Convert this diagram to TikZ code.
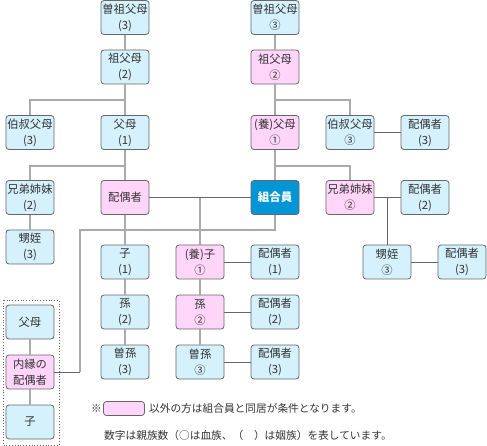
\documentclass[tikz,border=0pt]{standalone}
\usepackage{fontspec}
\setmainfont{Noto Sans CJK JP}
\usepackage{xcolor}
\usepackage{tikz}
\usetikzlibrary{positioning}

\definecolor{kinblue}{HTML}{D4F1FC}
\definecolor{kinpink}{HTML}{FFD5FA}
\definecolor{memberblue}{HTML}{0095D5}
\definecolor{boxline}{HTML}{666666}
\definecolor{kinline}{HTML}{AAAAAA}
\definecolor{txt}{HTML}{333333}

\begin{document}
\begin{tikzpicture}[x=1pt, y=-1pt,
      person/.style={draw=boxline, rectangle, rounded corners=3pt, line width=0.8pt,
        minimum width=48pt, minimum height=34pt, inner sep=0pt, align=center,
        text=txt, font=\fontsize{11.3}{16}\selectfont},
      blood/.style={person, fill=kinblue},
      inlaw/.style={person, fill=kinpink},
      member/.style={person, fill=memberblue, text=white, font=\fontsize{11.5}{16}\selectfont\bfseries},
      kin/.style={draw=kinline, line width=2pt},
      spouse/.style={draw=boxline, line width=0.8pt},
      note/.style={anchor=west, inner sep=0pt, text=txt, font=\fontsize{10.7}{12}\selectfont}
    ]
      \useasboundingbox (0,0) rectangle (487,446);
      % left side
      \node[blood] (sosofuL) at (125,17.5) {曽祖父母\\(3)};
      \node[blood] (sofuL) at (125,67) {祖父母\\(2)};
      \node[blood] (ojiL) at (30,132.5) {伯叔父母\\(3)};
      \node[blood] (fuboL) at (125,132.5) {父母\\(1)};
      \node[blood] (kyodaiL) at (30,197.5) {兄弟姉妹\\(2)};
      \node[inlaw] (haigu) at (125,197.5) {配偶者};
      \node[blood] (oimeiL) at (30,247) {甥姪\\(3)};
      \node[blood] (ko) at (125,262) {子\\(1)};
      \node[blood] (mago) at (125,312) {孫\\(2)};
      \node[blood] (himago) at (125,362) {曽孫\\(3)};
      % right side
      \node[blood] (sosofuR) at (275,17.5) {曽祖父母\\③};
      \node[inlaw] (sofuR) at (275,67) {祖父母\\②};
      \node[inlaw] (yofubo) at (275,132.5) {(養)父母\\①};
      \node[blood] (ojiR) at (350,132.5) {伯叔父母\\③};
      \node[blood] (ojiRsp) at (425,132.5) {配偶者\\(3)};
      \node[member] (kumiai) at (275,197.5) {組合員};
      \node[inlaw] (kyodaiR) at (350,197.5) {兄弟姉妹\\②};
      \node[blood] (kyodaiRsp) at (425,197.5) {配偶者\\(2)};
      \node[blood] (oimeiR) at (387,262) {甥姪\\③};
      \node[blood] (oimeiRsp) at (462,262) {配偶者\\(3)};
      \node[inlaw] (yoshi) at (200,262) {(養)子\\①};
      \node[blood] (yoshisp) at (275,262) {配偶者\\(1)};
      \node[inlaw] (magoR) at (200,312) {孫\\②};
      \node[blood] (magoRsp) at (275,312) {配偶者\\(2)};
      \node[blood] (himagoR) at (200,362) {曽孫\\③};
      \node[blood] (himagoRsp) at (275,362) {配偶者\\(3)};
      % common-law spouse
      \draw[boxline, line width=0.8pt, dotted] (3,300) rectangle (59,445);
      \node[blood] (nfubo) at (30,322) {父母};
      \node[inlaw] (naien) at (30,372) {内縁の\\配偶者};
      \node[blood] (nko) at (30,422) {子};
      \coordinate (turn) at (80,230);
      \coordinate (bend) at (80,372);

      \draw[kin] (sosofuL) -- (sofuL) -- (fuboL) -- (haigu) -- (ko) -- (mago) -- (himago);
      \draw[kin] (sofuL.south) ++(0,16) -| (ojiL.north);
      \draw[kin] (fuboL.south) ++(0,16) -| (kyodaiL.north);
      \draw[kin] (kyodaiL) -- (oimeiL);
      \draw[kin] (sosofuR) -- (sofuR) -- (yofubo) -- (kumiai);
      \draw[kin] (sofuR.south) ++(0,16) -| (ojiR.north);
      \draw[kin] (yofubo.south) ++(0,16) -| (kyodaiR.north);
      \draw[kin] (yoshi) -- (magoR) -- (himagoR);
      \draw[kin] (yoshi.north) -- (yoshi.north |- haigu.east);
      \draw[kin] (kumiai.south) |- (turn) -- (bend);
      \draw[kin] (nfubo) -- (naien) -- (nko);
      \draw[spouse] (haigu) -- (kumiai);
      \draw[spouse] (bend) -- (naien.east);
      \draw[spouse] (ojiR) -- (ojiRsp);
      \draw[spouse] (kyodaiR) -- (kyodaiRsp);
      \draw[spouse] (oimeiR.north) -- (oimeiR.north |- kyodaiR.east);
      \draw[spouse] (oimeiR) -- (oimeiRsp);
      \draw[spouse] (yoshi) -- (yoshisp);
      \draw[spouse] (magoR) -- (magoRsp);
      \draw[spouse] (himagoR) -- (himagoRsp);

      \node[note] (mark) at (91,409) {※};
      \node[draw=boxline, fill=kinpink, rounded corners=3pt, line width=0.8pt,
        minimum width=41pt, minimum height=14pt, inner sep=0pt] (key) at (124,408.5) {};
      \node[note, right=4pt of key] (rule) {以外の方は組合員と同居が条件となります。};
      \node[note] (legend) at (104,435) {数字は親族数（○は血族、（　）は姻族）を表しています。};
    \end{tikzpicture}
\end{document}
